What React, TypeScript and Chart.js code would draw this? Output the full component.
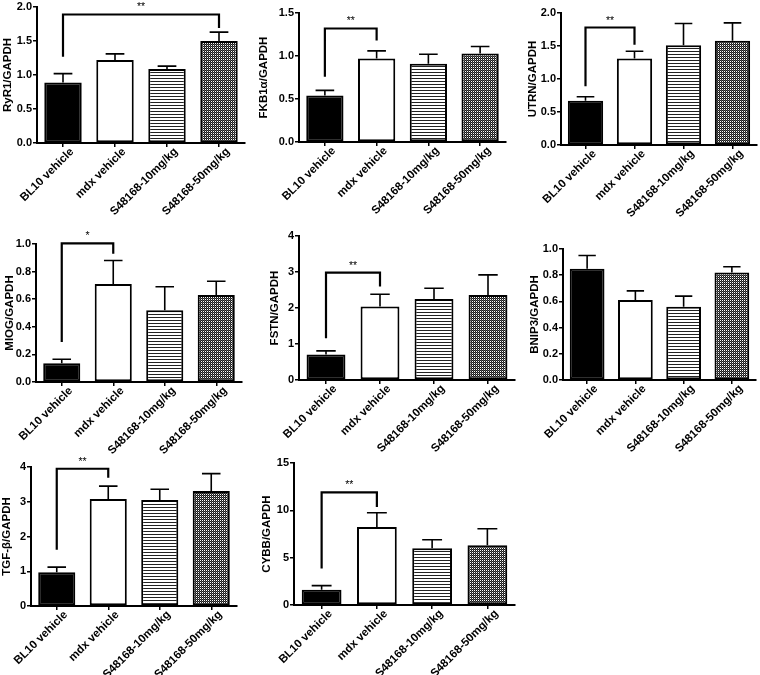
import React, { useEffect, useRef } from 'react';
import { Chart, registerables } from 'chart.js';

Chart.register(...registerables);

const FONT = "'Liberation Sans', Arial, Helvetica, sans-serif";
const TICK_FS = 11;
const XLABEL_FS = 11.5;
const TITLE_FS = 11.5;

// ---------- data ----------
const categories = ['BL10 vehicle', 'mdx vehicle', 'S48168-10mg/kg', 'S48168-50mg/kg'];

const ryr1Mean = [0.89, 1.22, 1.09, 1.5];
const ryr1Err = [0.13, 0.09, 0.04, 0.13];

const fkb1Mean = [0.54, 0.97, 0.91, 1.03];
const fkb1Err = [0.06, 0.09, 0.11, 0.08];

const utrnMean = [0.67, 1.31, 1.51, 1.58];
const utrnErr = [0.06, 0.11, 0.33, 0.27];

const miogMean = [0.135, 0.71, 0.52, 0.63];
const miogErr = [0.03, 0.17, 0.17, 0.1];

const fstnMean = [0.71, 2.04, 2.25, 2.36];
const fstnErr = [0.1, 0.34, 0.3, 0.56];

const bnip3Mean = [0.85, 0.61, 0.56, 0.82];
const bnip3Err = [0.1, 0.07, 0.08, 0.045];

const tgfMean = [0.97, 3.08, 3.05, 3.31];
const tgfErr = [0.15, 0.37, 0.31, 0.5];

const cybbMean = [1.6, 8.25, 6.0, 6.3];
const cybbErr = [0.45, 1.5, 0.9, 1.75];

// significance brackets: [fromIndex, toIndex, topValue, leftLegEnd, rightLegEnd]
const ryr1Bracket = [0, 3, 1.89, 1.27, 1.69];
const fkb1Bracket = [0, 1, 1.32, 0.76, 1.18];
const utrnBracket = [0, 1, 1.78, 0.89, 1.52];
const miogBracket = [0, 1, 1.005, 0.29, 0.93];
const fstnBracket = [0, 1, 2.98, 1.16, 2.6];
const tgfBracket = [0, 1, 3.95, 1.62, 3.69];
const cybbBracket = [0, 1, 11.9, 3.86, 10.35];

const ryr1Stars = '**';
const fkb1Stars = '**';
const utrnStars = '**';
const miogStars = '*';
const fstnStars = '**';
const tgfStars = '**';
const cybbStars = '**';

// y axes: [max, step, decimals]
const ryr1Axis = [2, 0.5, 1];
const fkb1Axis = [1.5, 0.5, 1];
const utrnAxis = [2, 0.5, 1];
const miogAxis = [1, 0.2, 1];
const fstnAxis = [4, 1, 0];
const bnip3Axis = [1, 0.2, 1];
const tgfAxis = [4, 1, 0];
const cybbAxis = [15, 5, 0];

type PanelDef = {
  title: string;
  mean: number[];
  err: number[];
  axis: number[];
  bracket: number[] | null;
  stars: string;
  // layout (page pixels)
  left: number;
  right: number;
  top: number;
  bottom: number;
  yWidth: number;
  padTop: number;
  xHeight: number;
};

const panels: PanelDef[] = [
  { title: 'RyR1/GAPDH', mean: ryr1Mean, err: ryr1Err, axis: ryr1Axis, bracket: ryr1Bracket, stars: ryr1Stars,
    left: 37, right: 245, top: 7, bottom: 143, yWidth: 36, padTop: 7, xHeight: 76 },
  { title: 'FKB1\u03B1/GAPDH', mean: fkb1Mean, err: fkb1Err, axis: fkb1Axis, bracket: fkb1Bracket, stars: fkb1Stars,
    left: 299, right: 506, top: 13, bottom: 142, yWidth: 42, padTop: 13, xHeight: 76 },
  { title: 'UTRN/GAPDH', mean: utrnMean, err: utrnErr, axis: utrnAxis, bracket: utrnBracket, stars: utrnStars,
    left: 561, right: 757, top: 13, bottom: 145, yWidth: 35, padTop: 13, xHeight: 76 },
  { title: 'MIOG/GAPDH', mean: miogMean, err: miogErr, axis: miogAxis, bracket: miogBracket, stars: miogStars,
    left: 36, right: 242, top: 244, bottom: 382, yWidth: 33, padTop: 20, xHeight: 76 },
  { title: 'FSTN/GAPDH', mean: fstnMean, err: fstnErr, axis: fstnAxis, bracket: fstnBracket, stars: fstnStars,
    left: 299, right: 515, top: 236, bottom: 380, yWidth: 31, padTop: 20, xHeight: 76 },
  { title: 'BNIP3/GAPDH', mean: bnip3Mean, err: bnip3Err, axis: bnip3Axis, bracket: null, stars: '',
    left: 563, right: 756, top: 249, bottom: 380, yWidth: 35, padTop: 20, xHeight: 76 },
  { title: 'TGF-\u03B2/GAPDH', mean: tgfMean, err: tgfErr, axis: tgfAxis, bracket: tgfBracket, stars: tgfStars,
    left: 31, right: 237, top: 467, bottom: 606, yWidth: 31, padTop: 20, xHeight: 69 },
  { title: 'CYBB/GAPDH', mean: cybbMean, err: cybbErr, axis: cybbAxis, bracket: cybbBracket, stars: cybbStars,
    left: 294, right: 515, top: 463, bottom: 605, yWidth: 34, padTop: 20, xHeight: 70 },
];

function makePattern(ctx: CanvasRenderingContext2D, kind: 'stripes' | 'dots'): CanvasPattern | string {
  const c = document.createElement('canvas');
  const g = c.getContext('2d');
  if (!g) return '#888';
  if (kind === 'stripes') {
    c.width = 4;
    c.height = 3;
    g.fillStyle = '#ffffff';
    g.fillRect(0, 0, 4, 3);
    g.fillStyle = '#222222';
    g.fillRect(0, 0, 4, 1);
  } else {
    c.width = 2;
    c.height = 2;
    g.fillStyle = '#ffffff';
    g.fillRect(0, 0, 2, 2);
    g.fillStyle = '#1a1a1a';
    g.fillRect(0, 0, 1, 1);
    g.fillRect(1, 1, 1, 1);
    g.fillStyle = '#555555';
    g.fillRect(1, 0, 1, 1);
  }
  return ctx.createPattern(c, 'repeat') || '#888';
}

function Panel({ p }: { p: PanelDef }) {
  const ref = useRef<HTMLCanvasElement>(null);
  const width = p.yWidth + (p.right - p.left) + 2;
  const height = p.padTop + (p.bottom - p.top) + p.xHeight;

  useEffect(() => {
    const canvas = ref.current;
    if (!canvas) return;
    const ctx = canvas.getContext('2d');
    if (!ctx) return;
    const fills = ['#000000', '#ffffff', makePattern(ctx, 'stripes'), makePattern(ctx, 'dots')];
    const [yMax, yStep, decimals] = p.axis;

    const overlay = {
      id: 'overlay' + p.title,
      afterDatasetsDraw(chart: any) {
        const c = chart.ctx as CanvasRenderingContext2D;
        const meta = chart.getDatasetMeta(0);
        const ys = chart.scales.y;
        c.save();
        c.strokeStyle = '#000';
        c.lineWidth = 1.6;
        meta.data.forEach((bar: any, i: number) => {
          const x = bar.x;
          const w = bar.width;
          const y0 = ys.getPixelForValue(p.mean[i]);
          const y1 = ys.getPixelForValue(p.mean[i] + p.err[i]);
          c.beginPath();
          c.moveTo(x, y0);
          c.lineTo(x, y1);
          c.moveTo(x - w / 4, y1);
          c.lineTo(x + w / 4, y1);
          c.stroke();
        });
        if (p.bracket) {
          const [from, to, topV, leftV, rightV] = p.bracket;
          const x0 = meta.data[from].x;
          const x1 = meta.data[to].x;
          const yt = ys.getPixelForValue(topV);
          const yl = ys.getPixelForValue(leftV);
          const yr = ys.getPixelForValue(rightV);
          c.lineWidth = 2.2;
          c.beginPath();
          c.moveTo(x0, yl);
          c.lineTo(x0, yt);
          c.lineTo(x1, yt);
          c.lineTo(x1, yr);
          c.stroke();
          c.fillStyle = '#000';
          c.font = `10.5px ${FONT}`;
          c.textAlign = 'center';
          c.textBaseline = 'alphabetic';
          c.fillText(p.stars, (x0 + x1) / 2, yt - 4);
        }
        c.restore();
      },
    };

    const chart = new Chart(canvas, {
      type: 'bar',
      data: {
        labels: categories,
        datasets: [
          {
            data: p.mean,
            backgroundColor: fills as any,
            borderColor: '#000',
            borderWidth: 2,
            borderSkipped: false,
            barPercentage: 0.9,
            categoryPercentage: 0.8,
          },
        ],
      },
      options: {
        responsive: false,
        animation: false,
        devicePixelRatio: 1,
        layout: { padding: { top: p.padTop, left: 0, right: 2, bottom: 0 } },
        plugins: { legend: { display: false }, tooltip: { enabled: false } },
        scales: {
          x: {
            type: 'category',
            offset: true,
            grid: {
              display: true,
              offset: false,
              drawOnChartArea: false,
              drawTicks: true,
              tickLength: 4,
              color: '#000',
              lineWidth: 1.5,
            },
            border: { display: true, color: '#000', width: 2 },
            ticks: {
              autoSkip: false,
              maxRotation: 45,
              minRotation: 45,
              padding: -2,
              labelOffset: 9,
              color: '#000',
              font: { family: FONT, size: XLABEL_FS, weight: 'bold' },
            },
            afterFit: (s: any) => {
              s.height = p.xHeight;
              s.paddingLeft = 0;
              s.paddingRight = 0;
            },
          },
          y: {
            min: 0,
            max: yMax,
            grid: {
              display: true,
              drawOnChartArea: false,
              drawTicks: true,
              tickLength: 4,
              color: '#000',
              lineWidth: 1.5,
            },
            border: { display: true, color: '#000', width: 2 },
            ticks: {
              stepSize: yStep,
              padding: 1,
              color: '#000',
              font: { family: FONT, size: TICK_FS, weight: 'bold' },
              callback: (v: any) => Number(v).toFixed(decimals),
            },
            title: {
              display: true,
              text: p.title,
              color: '#000',
              padding: 0,
              font: { family: FONT, size: TITLE_FS, weight: 'bold' },
            },
            afterFit: (s: any) => {
              s.width = p.yWidth;
              s.paddingTop = 0;
              s.paddingBottom = 0;
            },
          },
        },
      },
      plugins: [overlay],
    } as any);
    return () => chart.destroy();
  }, [p]);

  return (
    <canvas
      ref={ref}
      width={width}
      height={height}
      style={{
        position: 'absolute',
        left: p.left - p.yWidth,
        top: p.top - p.padTop,
        width,
        height,
      }}
    />
  );
}

export default function App() {
  return (
    <div
      style={{
        position: 'absolute',
        left: 0,
        top: 0,
        width: 760,
        height: 675,
        overflow: 'hidden',
        background: '#fff',
      }}
    >
      {panels.map((p) => (
        <Panel key={p.title} p={p} />
      ))}
    </div>
  );
}
